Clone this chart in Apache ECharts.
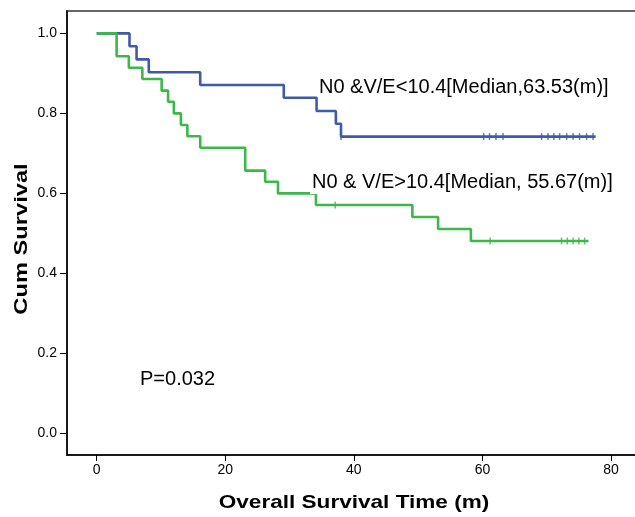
<!DOCTYPE html>
<html><head><meta charset="utf-8">
<script src="https://cdn.jsdelivr.net/npm/echarts@6/dist/echarts.min.js"></script>
<style>html,body{margin:0;padding:0;background:#fff}#c{width:635px;height:517px}</style>
</head><body><div id="c"></div>
<script>
// Kaplan-Meier step points [time (m), cumulative survival]
const lowTimes  = [0, 5.1, 6.2, 8.1, 16.1, 29.1, 34.2, 37.2, 38.0, 77.6];
const lowSurv   = [1.0, 0.968, 0.935, 0.903, 0.871, 0.839, 0.806, 0.774, 0.742, 0.742];
const lowCensT  = [38.0, 60.2, 61.1, 62.1, 63.2, 69.2, 70.2, 71.1, 72.0, 73.1, 74.1, 75.1, 76.2, 77.2];
const lowCensS  = [0.742, 0.742, 0.742, 0.742, 0.742, 0.742, 0.742, 0.742, 0.742, 0.742, 0.742, 0.742, 0.742, 0.742];

const highTimes = [0, 3.1, 5.0, 7.1, 10.1, 11.1, 12.0, 13.1, 14.1, 16.1, 23.1, 26.2, 28.2, 34.1, 49.1, 53.1, 58.2, 76.5];
const highSurv  = [1.0, 0.943, 0.914, 0.886, 0.857, 0.829, 0.800, 0.771, 0.743, 0.714, 0.657, 0.629, 0.600, 0.571, 0.541, 0.511, 0.481, 0.481];
const highCensT = [37.1, 61.2, 72.3, 73.2, 74.1, 75.0, 75.9];
const highCensS = [0.571, 0.481, 0.481, 0.481, 0.481, 0.481, 0.481];

const xTicks = [0, 20, 40, 60, 80];
const yTicks = [0, 0.2, 0.4, 0.6, 0.8, 1.0];

const labelLow  = 'N0 &V/E<10.4[Median,63.53(m)]';
const labelHigh = 'N0 & V/E>10.4[Median, 55.67(m)]';
const pText = 'P=0.032';
const xTitle = 'Overall Survival Time (m)';
const yTitle = 'Cum Survival';

const BLUE = '#3f5aa9', GREEN = '#3db74a';
const FONT = '"Liberation Sans", Arial, sans-serif';
const zip = (a, b) => a.map((v, i) => [v, b[i]]);

const chart = echarts.init(document.getElementById('c'), null, {renderer: 'canvas'});
chart.setOption({
  animation: false,
  backgroundColor: '#fff',
  grid: {left: 67, top: 11, width: 590, bottom: 62, containLabel: false, outerBoundsMode: 'none',
         show: true, borderColor: '#666', borderWidth: 2, backgroundColor: 'transparent'},
  xAxis: {
    type: 'value', min: -4.62, max: -4.62 + 590 / 6.429,
    splitLine: {show: false},
    axisLine: {show: true, onZero: false, lineStyle: {color: '#000', width: 1.5}},
    axisTick: {show: true, customValues: xTicks, length: 6, lineStyle: {color: '#000', width: 1}},
    axisLabel: {customValues: xTicks, margin: 8, color: '#000', fontFamily: FONT, fontSize: 14}
  },
  yAxis: {
    type: 'value', min: -0.054, max: 1.056,
    splitLine: {show: false},
    axisLine: {show: true, onZero: false, lineStyle: {color: '#000', width: 1.5}},
    axisTick: {show: true, customValues: yTicks, length: 7, lineStyle: {color: '#000', width: 1}},
    axisLabel: {customValues: yTicks, margin: 10, color: '#000', fontFamily: FONT, fontSize: 14,
      formatter: v => v.toFixed(1)}
  },
  series: [
    {type: 'line', step: 'end', data: zip(lowTimes, lowSurv), showSymbol: false, z: 2,
     lineStyle: {color: BLUE, width: 2.6}},
    {type: 'scatter', data: zip(lowCensT, lowCensS), symbol: 'rect', symbolSize: [1.5, 7], z: 3,
     itemStyle: {color: BLUE}},
    {type: 'line', step: 'end', data: zip(highTimes, highSurv), showSymbol: false, z: 4,
     lineStyle: {color: GREEN, width: 2.6}},
    {type: 'scatter', data: zip(highCensT, highCensS), symbol: 'rect', symbolSize: [1.5, 7], z: 5,
     itemStyle: {color: GREEN}}
  ],
  graphic: [
    {type: 'text', x: 319, y: 87.5, z: 100, style: {text: labelLow, fill: '#000', font: '20px ' + FONT,
      verticalAlign: 'middle'}},
    {type: 'text', x: 310, y: 182, z: 100, style: {text: labelHigh, fill: '#000', font: '20px ' + FONT,
      verticalAlign: 'middle', backgroundColor: '#fff', padding: [0, 2, 4, 2]}},
    {type: 'text', x: 140, y: 379.5, z: 100, style: {text: pText, fill: '#000', font: '20px ' + FONT,
      verticalAlign: 'middle'}},
    {type: 'text', x: 354, y: 503, z: 100, scaleX: 1.22,
     style: {text: xTitle, fill: '#000', font: 'bold 18.5px ' + FONT, align: 'center', verticalAlign: 'middle'}},
    {type: 'text', x: 22, y: 239, z: 100, rotation: Math.PI / 2, scaleX: 1.28,
     style: {text: yTitle, fill: '#000', font: 'bold 18.5px ' + FONT, align: 'center', verticalAlign: 'middle'}}
  ]
});
</script></body></html>
